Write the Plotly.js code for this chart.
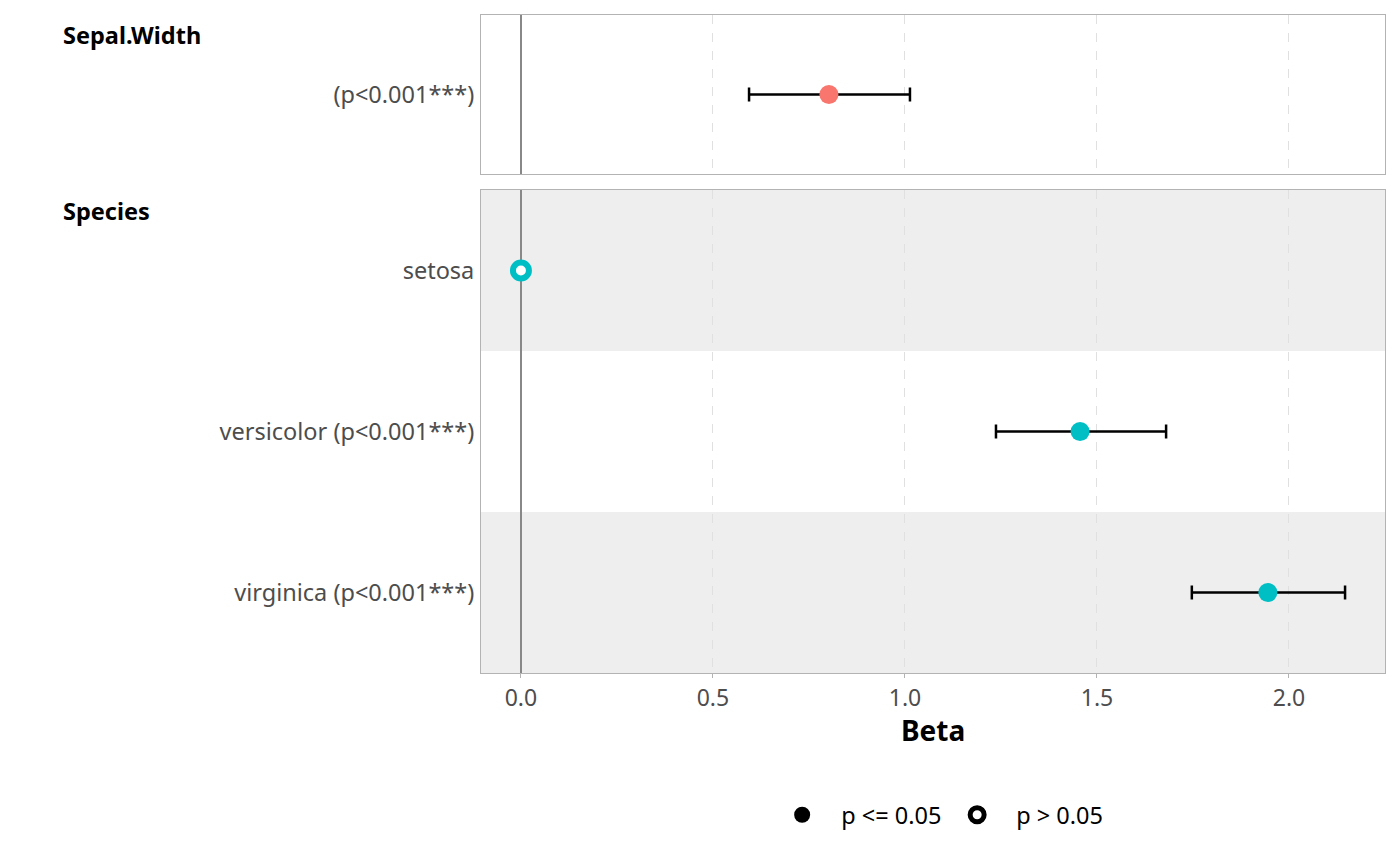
<!DOCTYPE html>
<html>
<head>
<meta charset="utf-8">
<script src="https://cdn.plot.ly/plotly-3.0.1.min.js"></script>
<style>html,body{margin:0;padding:0;background:#fff;}#chart{width:1400px;height:866px;}</style>
</head>
<body>
<div id="chart"></div>
<script>
// Data
const groups = ["Sepal.Width", "Species"];
const sepalLabels = ["(p<0.001***)"];
const sepalBeta = [0.802];
const sepalLow = [0.594];
const sepalHigh = [1.013];

const speciesLabels = ["setosa", "versicolor (p<0.001***)", "virginica (p<0.001***)"];
const speciesBeta = [0, 1.456, 1.945];
const speciesLow = [null, 1.237, 1.747];
const speciesHigh = [null, 1.680, 2.146];
const speciesSig = [false, true, true];

const xTicks = [0.0, 0.5, 1.0, 1.5, 2.0];
const xTickText = ["0.0", "0.5", "1.0", "1.5", "2.0"];
const xTitle = "Beta";
const legendLabels = ["p <= 0.05", "p > 0.05"];

const red = "#F8766D", teal = "#00BFC4";
const font = "Noto Sans, Open Sans, sans-serif";

// row positions (top row first)
const sepalY = sepalLabels.map((_, i) => sepalLabels.length - i);
const speciesY = speciesLabels.map((_, i) => speciesLabels.length - i);

const errStyle = {color: "#000", thickness: 2.5, width: 7};

const traces = [];
// Sepal.Width
traces.push({
  x: sepalBeta, y: sepalY, xaxis: "x", yaxis: "y", type: "scatter", mode: "markers",
  showlegend: false, hoverinfo: "skip",
  error_x: Object.assign({type: "data", symmetric: false,
    array: sepalBeta.map((b, i) => sepalHigh[i] - b),
    arrayminus: sepalBeta.map((b, i) => b - sepalLow[i])}, errStyle),
  marker: {color: red, size: 19, line: {width: 0}}
});
// Species significant
const sigIdx = speciesBeta.map((_, i) => i).filter(i => speciesSig[i]);
const nsIdx = speciesBeta.map((_, i) => i).filter(i => !speciesSig[i]);
traces.push({
  x: sigIdx.map(i => speciesBeta[i]), y: sigIdx.map(i => speciesY[i]),
  xaxis: "x2", yaxis: "y2", type: "scatter", mode: "markers", showlegend: false, hoverinfo: "skip",
  error_x: Object.assign({type: "data", symmetric: false,
    array: sigIdx.map(i => speciesHigh[i] - speciesBeta[i]),
    arrayminus: sigIdx.map(i => speciesBeta[i] - speciesLow[i])}, errStyle),
  marker: {color: teal, size: 19, line: {width: 0}}
});
traces.push({
  x: nsIdx.map(i => speciesBeta[i]), y: nsIdx.map(i => speciesY[i]),
  xaxis: "x2", yaxis: "y2", type: "scatter", mode: "markers", showlegend: false, hoverinfo: "skip",
  marker: {color: "#fff", size: 16, line: {color: teal, width: 6}}
});
// legend dummies
traces.push({x: [null], y: [null], xaxis: "x2", yaxis: "y2", type: "scatter", mode: "markers",
  name: legendLabels[0], marker: {color: "#000", size: 19, line: {width: 0}}});
traces.push({x: [null], y: [null], xaxis: "x2", yaxis: "y2", type: "scatter", mode: "markers",
  name: legendLabels[1], marker: {color: "#fff", size: 14, line: {color: "#000", width: 6}}});

const xRange = [-0.104, 2.25];
const xCommon = {
  range: xRange, tickvals: xTicks, ticktext: xTickText,
  showgrid: true, gridcolor: "#e0e0e0", griddash: "dash", gridwidth: 1,
  zeroline: true, zerolinecolor: "#888888", zerolinewidth: 2,
  showline: true, mirror: true, linecolor: "#b3b3b3", linewidth: 1,
  fixedrange: true
};
const yCommon = {
  showgrid: false, zeroline: false, showline: true, mirror: true,
  linecolor: "#b3b3b3", linewidth: 1, ticks: "", ticklabelstandoff: 1,
  tickfont: {family: font, size: 23.5, color: "#4d4d4d"}
};

// shading for alternating rows in Species panel
const shapes = [];
speciesY.forEach((y, i) => {
  if (i % 2 === 0) {
    shapes.push({type: "rect", xref: "x2", yref: "y2", x0: xRange[0], x1: xRange[1],
      y0: y - 0.5, y1: y + 0.5, fillcolor: "#eeeeee", line: {width: 0}, layer: "below"});
  }
});

const layout = {
  width: 1400, height: 866,
  margin: {l: 481, r: 15, t: 15, b: 193},
  paper_bgcolor: "#fff", plot_bgcolor: "#fff",
  font: {family: font, size: 23, color: "#4d4d4d"},
  showlegend: true,
  legend: {orientation: "h", x: 0.5057, xanchor: "center", y: -0.2158, yanchor: "middle",
    font: {family: font, size: 23.5, color: "#000"}, itemsizing: "trace", itemwidth: 68,
    entrywidth: 92, bgcolor: "rgba(0,0,0,0)"},
  xaxis: Object.assign({}, xCommon, {anchor: "y", showticklabels: false, ticks: ""}),
  xaxis2: Object.assign({}, xCommon, {anchor: "y2", matches: "x", ticks: "outside", ticklen: 4,
    tickcolor: "#b3b3b3", tickwidth: 1,
    tickfont: {family: font, size: 23, color: "#4d4d4d"}}),
  yaxis: Object.assign({}, yCommon, {domain: [0.7584, 1], range: [0.5, sepalLabels.length + 0.5],
    tickvals: sepalY, ticktext: sepalLabels}),
  yaxis2: Object.assign({}, yCommon, {domain: [0, 0.7340], range: [0.5, speciesLabels.length + 0.5],
    tickvals: speciesY, ticktext: speciesLabels}),
  shapes: shapes,
  annotations: [
    {text: "<b>" + groups[0] + "</b>", xref: "paper", yref: "paper", x: -0.4646, y: 0.9696,
      xanchor: "left", yanchor: "middle", showarrow: false, font: {family: font, size: 23.5, color: "#000"}},
    {text: "<b>" + groups[1] + "</b>", xref: "paper", yref: "paper", x: -0.4646, y: 0.7021,
      xanchor: "left", yanchor: "middle", showarrow: false, font: {family: font, size: 23.5, color: "#000"}},
    {text: "<b>" + xTitle + "</b>", xref: "paper", yref: "paper", x: 0.5, y: -0.0866,
      xanchor: "center", yanchor: "middle", showarrow: false, font: {family: font, size: 28, color: "#000"}}
  ]
};

Plotly.newPlot("chart", traces, layout, {displayModeBar: false, staticPlot: true});
</script>
</body>
</html>
